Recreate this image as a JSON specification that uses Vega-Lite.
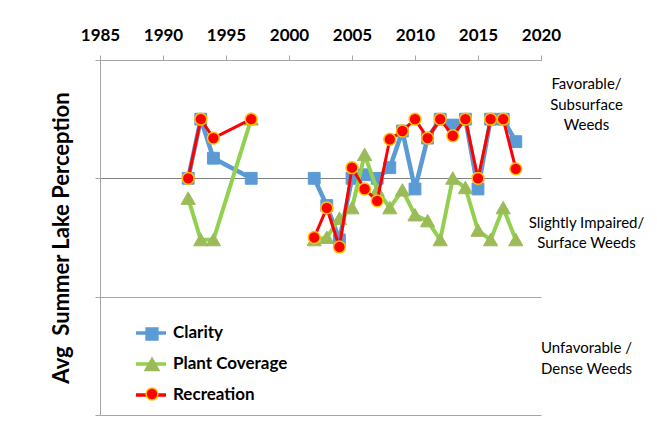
{
  "$schema": "https://vega.github.io/schema/vega-lite/v6.json",
  "width": 441,
  "height": 355,
  "autosize": {"type": "none"},
  "padding": {"left": 100, "top": 60, "right": 116, "bottom": 21},
  "background": "white",
  "config": {"view": {"stroke": null}, "font": "Lato"},
  "data": {"values": [
    {"year": 1992, "series": "Clarity", "value": 2.0},
    {"year": 1993, "series": "Clarity", "value": 1.5},
    {"year": 1994, "series": "Clarity", "value": 1.83},
    {"year": 1997, "series": "Clarity", "value": 2.0},
    {"year": 2000, "series": "Clarity", "value": null},
    {"year": 2002, "series": "Clarity", "value": 2.0},
    {"year": 2003, "series": "Clarity", "value": 2.23},
    {"year": 2004, "series": "Clarity", "value": 2.52},
    {"year": 2005, "series": "Clarity", "value": 2.0},
    {"year": 2006, "series": "Clarity", "value": 1.97},
    {"year": 2007, "series": "Clarity", "value": 2.0},
    {"year": 2008, "series": "Clarity", "value": 1.91},
    {"year": 2009, "series": "Clarity", "value": 1.6},
    {"year": 2010, "series": "Clarity", "value": 2.09},
    {"year": 2011, "series": "Clarity", "value": 1.66},
    {"year": 2012, "series": "Clarity", "value": 1.5},
    {"year": 2013, "series": "Clarity", "value": 1.55},
    {"year": 2014, "series": "Clarity", "value": 1.5},
    {"year": 2015, "series": "Clarity", "value": 2.09},
    {"year": 2016, "series": "Clarity", "value": 1.5},
    {"year": 2017, "series": "Clarity", "value": 1.5},
    {"year": 2018, "series": "Clarity", "value": 1.69},
    {"year": 1992, "series": "Plant Coverage", "value": 2.17},
    {"year": 1993, "series": "Plant Coverage", "value": 2.52},
    {"year": 1994, "series": "Plant Coverage", "value": 2.52},
    {"year": 1997, "series": "Plant Coverage", "value": 1.5},
    {"year": 2000, "series": "Plant Coverage", "value": null},
    {"year": 2002, "series": "Plant Coverage", "value": 2.52},
    {"year": 2003, "series": "Plant Coverage", "value": 2.5},
    {"year": 2004, "series": "Plant Coverage", "value": 2.34},
    {"year": 2005, "series": "Plant Coverage", "value": 2.25},
    {"year": 2006, "series": "Plant Coverage", "value": 1.8},
    {"year": 2007, "series": "Plant Coverage", "value": 2.1},
    {"year": 2008, "series": "Plant Coverage", "value": 2.25},
    {"year": 2009, "series": "Plant Coverage", "value": 2.1},
    {"year": 2010, "series": "Plant Coverage", "value": 2.31},
    {"year": 2011, "series": "Plant Coverage", "value": 2.36},
    {"year": 2012, "series": "Plant Coverage", "value": 2.52},
    {"year": 2013, "series": "Plant Coverage", "value": 2.0},
    {"year": 2014, "series": "Plant Coverage", "value": 2.08},
    {"year": 2015, "series": "Plant Coverage", "value": 2.44},
    {"year": 2016, "series": "Plant Coverage", "value": 2.52},
    {"year": 2017, "series": "Plant Coverage", "value": 2.25},
    {"year": 2018, "series": "Plant Coverage", "value": 2.52},
    {"year": 1992, "series": "Recreation", "value": 2.0},
    {"year": 1993, "series": "Recreation", "value": 1.5},
    {"year": 1994, "series": "Recreation", "value": 1.66},
    {"year": 1997, "series": "Recreation", "value": 1.5},
    {"year": 2000, "series": "Recreation", "value": null},
    {"year": 2002, "series": "Recreation", "value": 2.5},
    {"year": 2003, "series": "Recreation", "value": 2.25},
    {"year": 2004, "series": "Recreation", "value": 2.58},
    {"year": 2005, "series": "Recreation", "value": 1.91},
    {"year": 2006, "series": "Recreation", "value": 2.09},
    {"year": 2007, "series": "Recreation", "value": 2.19},
    {"year": 2008, "series": "Recreation", "value": 1.67},
    {"year": 2009, "series": "Recreation", "value": 1.6},
    {"year": 2010, "series": "Recreation", "value": 1.5},
    {"year": 2011, "series": "Recreation", "value": 1.66},
    {"year": 2012, "series": "Recreation", "value": 1.5},
    {"year": 2013, "series": "Recreation", "value": 1.64},
    {"year": 2014, "series": "Recreation", "value": 1.5},
    {"year": 2015, "series": "Recreation", "value": 2.0},
    {"year": 2016, "series": "Recreation", "value": 1.5},
    {"year": 2017, "series": "Recreation", "value": 1.5},
    {"year": 2018, "series": "Recreation", "value": 1.92}
  ]},
  "encoding": {
    "x": {"field": "year", "type": "quantitative",
      "scale": {"domain": [1985, 2020], "nice": false, "zero": false},
      "axis": {"orient": "top", "values": [1985, 1990, 1995, 2000, 2005, 2010, 2015, 2020], "format": "d", "title": null, "grid": false,
        "domainColor": "#A6A6A6", "tickColor": "#A6A6A6", "tickSize": 5, "labelFont": "Lato", "labelFontWeight": "bold", "labelFontSize": 17,
        "labelColor": "#000000", "labelPadding": 15, "labelBaseline": "alphabetic", "labelFlush": false, "labelOverlap": false}},
    "y": {"field": "value", "type": "quantitative",
      "scale": {"domain": [1, 4], "reverse": true, "nice": false, "zero": false},
      "axis": {"orient": "left", "values": [1, 2, 3, 4], "labels": false, "tickSize": 5, "tickColor": "#A6A6A6", "domainColor": "#A6A6A6",
        "grid": true, "gridColor": {"condition": {"test": "datum.value === 2", "value": "#808080"}, "value": "#A6A6A6"},
        "title": "Avg\u00a0 Summer Lake Perception", "titleFont": "Lato", "titleFontSize": 22, "titleFontWeight": "bold", "titleColor": "#000000", "titlePadding": 21}}
  },
  "layer": [
    {
      "layer": [
        {"transform": [{"filter": "datum.series === 'Clarity'"}],
         "mark": {"type": "line", "strokeWidth": 4.5, "strokeJoin": "round", "invalid": "break-paths-filter-domains"},
         "encoding": {"color": {"field": "series", "type": "nominal",
           "scale": {"domain": ["Clarity", "Plant Coverage", "Recreation"], "range": ["#5B9BD5", "#92D050", "#FF0000"]},
           "legend": {"title": null, "orient": "none", "legendX": 34, "legendY": 256, "padding": 0, "symbolType": "stroke", "symbolSize": 900, "symbolStrokeWidth": 3.5, "labelOffset": 5, "rowPadding": 6, "labelFont": "Lato", "labelFontSize": 17, "labelFontWeight": "bold", "labelColor": "#000000"}}}},
        {"transform": [{"filter": "datum.series === 'Clarity'"}],
         "mark": {"type": "point", "filled": true, "opacity": 1, "strokeWidth": 1, "size": 140},
         "encoding": {
           "shape": {"field": "series", "type": "nominal", "scale": {"range": ["square", "M0,-1.1L1.2,1L-1.2,1Z", "circle"]}, "legend": {"title": null, "orient": "none", "legendX": 44, "legendY": 266, "padding": 0, "labelExpr": "''", "labelFontSize": 16, "rowPadding": 11.5, "symbolStrokeWidth": 1.5, "symbolSize": 140}},
           "fill": {"field": "series", "type": "nominal", "scale": {"range": ["#5B9BD5", "#9BBB59", "#FF0000"]}, "legend": {"title": null, "orient": "none", "legendX": 44, "legendY": 266, "padding": 0, "labelExpr": "''", "labelFontSize": 16, "rowPadding": 11.5, "symbolStrokeWidth": 1.5, "symbolSize": 140}},
           "stroke": {"field": "series", "type": "nominal", "scale": {"range": ["#5B9BD5", "#9BBB59", "#FFC000"]}, "legend": {"title": null, "orient": "none", "legendX": 44, "legendY": 266, "padding": 0, "labelExpr": "''", "labelFontSize": 16, "rowPadding": 11.5, "symbolStrokeWidth": 1.5, "symbolSize": 140}}}},
        {"transform": [{"filter": "datum.series === 'Plant Coverage'"}],
         "mark": {"type": "line", "strokeWidth": 4, "strokeJoin": "round", "invalid": "break-paths-filter-domains"},
         "encoding": {"color": {"field": "series", "type": "nominal",
           "scale": {"domain": ["Clarity", "Plant Coverage", "Recreation"], "range": ["#5B9BD5", "#92D050", "#FF0000"]},
           "legend": {"title": null, "orient": "none", "legendX": 34, "legendY": 256, "padding": 0, "symbolType": "stroke", "symbolSize": 900, "symbolStrokeWidth": 3.5, "labelOffset": 5, "rowPadding": 6, "labelFont": "Lato", "labelFontSize": 17, "labelFontWeight": "bold", "labelColor": "#000000"}}}},
        {"transform": [{"filter": "datum.series === 'Plant Coverage'"}],
         "mark": {"type": "point", "filled": true, "opacity": 1, "strokeWidth": 1, "size": 140},
         "encoding": {
           "shape": {"field": "series", "type": "nominal", "scale": {"range": ["square", "M0,-1.1L1.2,1L-1.2,1Z", "circle"]}, "legend": {"title": null, "orient": "none", "legendX": 44, "legendY": 266, "padding": 0, "labelExpr": "''", "labelFontSize": 16, "rowPadding": 11.5, "symbolStrokeWidth": 1.5, "symbolSize": 140}},
           "fill": {"field": "series", "type": "nominal", "scale": {"range": ["#5B9BD5", "#9BBB59", "#FF0000"]}, "legend": {"title": null, "orient": "none", "legendX": 44, "legendY": 266, "padding": 0, "labelExpr": "''", "labelFontSize": 16, "rowPadding": 11.5, "symbolStrokeWidth": 1.5, "symbolSize": 140}},
           "stroke": {"field": "series", "type": "nominal", "scale": {"range": ["#5B9BD5", "#9BBB59", "#FFC000"]}, "legend": {"title": null, "orient": "none", "legendX": 44, "legendY": 266, "padding": 0, "labelExpr": "''", "labelFontSize": 16, "rowPadding": 11.5, "symbolStrokeWidth": 1.5, "symbolSize": 140}}}}
      ]
    },
    {
      "encoding": {
        "y": {"field": "value", "type": "quantitative",
          "scale": {"domain": [1, 4], "reverse": true, "nice": false, "zero": false},
          "axis": {"orient": "right", "values": [1.2, 2.37, 3.43], "title": null, "grid": false, "domain": false, "ticks": false, "tickSize": 0,
            "labelExpr": "datum.value < 2 ? ['Favorable/', 'Subsurface', 'Weeds'] : datum.value < 3 ? ['Slightly Impaired/', 'Surface Weeds'] : ['Unfavorable /', 'Dense Weeds']",
            "labelAlign": "center", "labelBaseline": "middle", "labelPadding": 45, "labelFont": "Lato", "labelFontSize": 15, "labelColor": "#000000",
            "labelLineHeight": 20.5, "labelOverlap": false, "labelFlush": false}}
      },
      "layer": [
        {"transform": [{"filter": "datum.series === 'Recreation'"}],
         "mark": {"type": "line", "strokeWidth": 3, "strokeJoin": "round", "invalid": "break-paths-filter-domains"},
         "encoding": {"color": {"field": "series", "type": "nominal",
           "scale": {"domain": ["Clarity", "Plant Coverage", "Recreation"], "range": ["#5B9BD5", "#92D050", "#FF0000"]},
           "legend": {"title": null, "orient": "none", "legendX": 34, "legendY": 256, "padding": 0, "symbolType": "stroke", "symbolSize": 900, "symbolStrokeWidth": 3.5, "labelOffset": 5, "rowPadding": 6, "labelFont": "Lato", "labelFontSize": 17, "labelFontWeight": "bold", "labelColor": "#000000"}}}},
        {"transform": [{"filter": "datum.series === 'Recreation'"}],
         "mark": {"type": "point", "filled": true, "opacity": 1, "strokeWidth": 1.5, "size": 140},
         "encoding": {
           "shape": {"field": "series", "type": "nominal", "scale": {"range": ["square", "M0,-1.1L1.2,1L-1.2,1Z", "circle"]}, "legend": {"title": null, "orient": "none", "legendX": 44, "legendY": 266, "padding": 0, "labelExpr": "''", "labelFontSize": 16, "rowPadding": 11.5, "symbolStrokeWidth": 1.5, "symbolSize": 140}},
           "fill": {"field": "series", "type": "nominal", "scale": {"range": ["#5B9BD5", "#9BBB59", "#FF0000"]}, "legend": {"title": null, "orient": "none", "legendX": 44, "legendY": 266, "padding": 0, "labelExpr": "''", "labelFontSize": 16, "rowPadding": 11.5, "symbolStrokeWidth": 1.5, "symbolSize": 140}},
           "stroke": {"field": "series", "type": "nominal", "scale": {"range": ["#5B9BD5", "#9BBB59", "#FFC000"]}, "legend": {"title": null, "orient": "none", "legendX": 44, "legendY": 266, "padding": 0, "labelExpr": "''", "labelFontSize": 16, "rowPadding": 11.5, "symbolStrokeWidth": 1.5, "symbolSize": 140}}}}
      ]
    }
  ],
  "resolve": {"axis": {"y": "independent"}}
}
